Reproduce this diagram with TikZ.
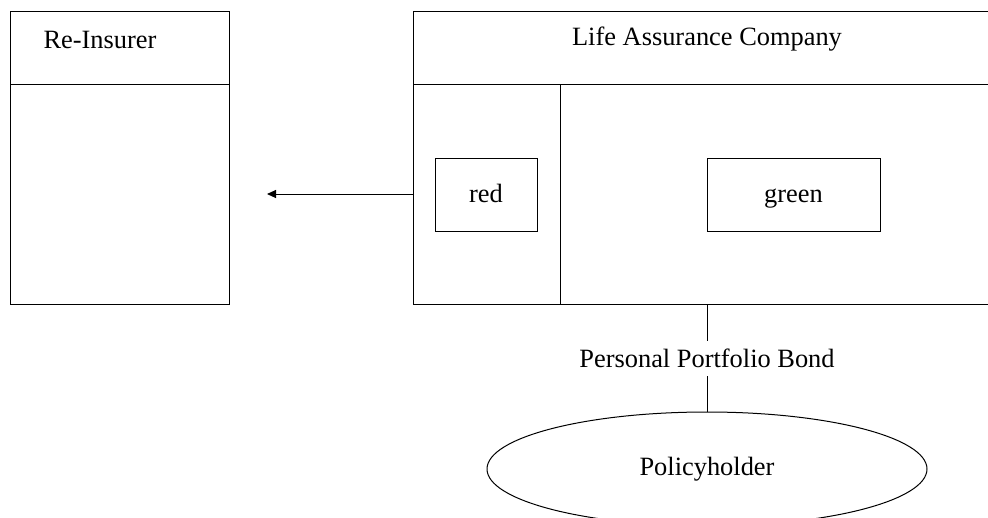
\documentclass[tikz,border=0pt]{standalone}
\usepackage{fontspec}
\setmainfont{Liberation Serif}
\usetikzlibrary{arrows.meta,shapes.geometric}
\begin{document}
\begin{tikzpicture}[x=1pt,y=-1pt,
  line width=1pt,
  txt/.style={font=\fontsize{26.4}{30}\selectfont},
  lbl/.style={txt, inner sep=0pt, anchor=base},
  panel/.style={draw, rectangle, inner sep=0pt, anchor=north west},
  inbox/.style={draw, rectangle, minimum width=#1, minimum height=73pt, inner sep=0pt},
]
\useasboundingbox (0,0) rectangle (988,517);
\clip (0,0) rectangle (988,517);

% Re-Insurer panel
\node[panel, minimum width=219pt, minimum height=293pt] (reins) at (10,11) {};
\draw (10,84) -- (229,84);
\node[lbl] (reinsT) at (100,48) {Re-Insurer};

% Life Assurance Company panel (runs off the right edge)
\coordinate (lacTL) at (413,11);
\coordinate (lacBL) at (413,304);
\draw (988,11) -- (lacTL) -- (lacBL) -- (988,304);
\draw (413,84) -- (988,84);
\draw (560,84) -- (560,304);
\node[lbl] (lacT) at (707,45) {Life Assurance Company};

% inner boxes with their labels
\node[inbox=102pt] (red) at (486,194.5) {};
\node[lbl] (redT) at (486,202) {red};
\node[inbox=173pt] (green) at (793.5,194.5) {};
\node[lbl] (greenT) at (793.5,202) {green};

% re-insurance arrow
\coordinate (arrS) at (413,194);
\coordinate (arrE) at (267,194);
\draw[-{Triangle[length=9pt,width=8pt]}] (arrS) -- (arrE);

% bond link to policyholder
\coordinate (lacB) at (707,304);
\node[lbl] (bond) at (707,367) {Personal Portfolio Bond};
\coordinate (bondN) at (707,341);
\coordinate (bondS) at (707,376);
\node[draw, ellipse, minimum width=440pt, minimum height=114pt, inner sep=0pt] (holder) at (707,469) {};
\node[lbl] (holderT) at (707,475) {Policyholder};
\draw (lacB) -- (bondN);
\draw (bondS) -- (holder.north);
\end{tikzpicture}
\end{document}
